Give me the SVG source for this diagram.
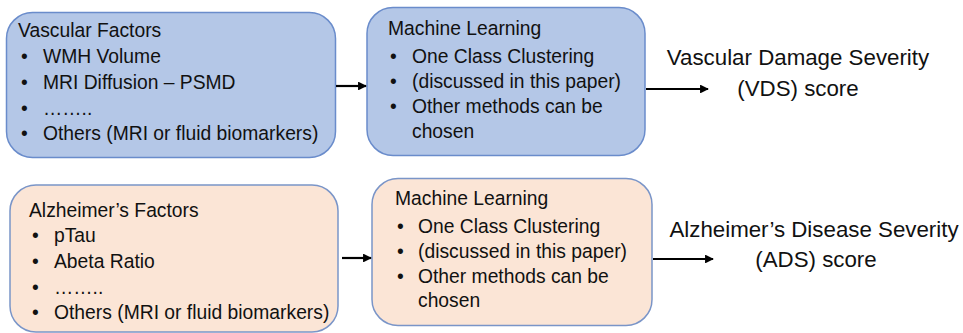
<svg xmlns="http://www.w3.org/2000/svg" width="963" height="333" viewBox="0 0 963 333">
<style>
text{font-family:"Liberation Sans",Arial,sans-serif;font-size:19.3px;fill:#111}
.blue{fill:#b4c7e7;stroke:#6a8ccb;stroke-width:1.5}
.peach{fill:#fbe5d6;stroke:#7a95c8;stroke-width:1.5}
.out{font-size:22.3px;text-anchor:middle}
.conn{stroke:#000;stroke-width:2.2;fill:none;marker-end:url(#ah)}
</style>
<defs>
<marker id="ah" viewBox="0 0 10 10" refX="9" refY="5" markerWidth="4" markerHeight="4" orient="auto" markerUnits="strokeWidth">
<path d="M0,0 L10,5 L0,10 z" fill="#000"/>
</marker>
</defs>
<rect width="963" height="333" fill="#fff"/>
<g id="vascular-factors">
<rect class="blue" x="6.5" y="12.5" width="329" height="145" rx="26"/>
<text x="18" y="37">Vascular Factors</text>
<text x="21" y="63">•</text><text x="43" y="63">WMH Volume</text>
<text x="21" y="89">•</text><text x="43" y="89">MRI Diffusion – PSMD</text>
<text x="21" y="115">•</text><text x="43" y="115">……..</text>
<text x="21" y="140">•</text><text x="43" y="140">Others (MRI or fluid biomarkers)</text>
</g>
<g id="ml-vascular">
<rect class="blue" x="367" y="7.5" width="278" height="148" rx="26"/>
<text x="388" y="35">Machine Learning</text>
<text x="390" y="63">•</text><text x="412" y="63">One Class Clustering</text>
<text x="390" y="88">•</text><text x="412" y="88">(discussed in this paper)</text>
<text x="390" y="113">•</text><text x="412" y="113">Other methods can be</text>
<text x="412" y="138">chosen</text>
</g>
<g id="vds-score">
<text class="out" x="798" y="65">Vascular Damage Severity</text>
<text class="out" x="798" y="96">(VDS) score</text>
</g>
<g id="alzheimers-factors">
<rect class="peach" x="10" y="185" width="328" height="147" rx="26"/>
<text x="29" y="217">Alzheimer’s Factors</text>
<text x="32" y="242">•</text><text x="54" y="242">pTau</text>
<text x="32" y="268">•</text><text x="54" y="268">Abeta Ratio</text>
<text x="32" y="294">•</text><text x="54" y="294">……..</text>
<text x="32" y="319">•</text><text x="54" y="319">Others (MRI or fluid biomarkers)</text>
</g>
<g id="ml-alzheimers">
<rect class="peach" x="372" y="178.5" width="280" height="147" rx="26"/>
<text x="395" y="205">Machine Learning</text>
<text x="397" y="233">•</text><text x="418" y="233">One Class Clustering</text>
<text x="397" y="258">•</text><text x="418" y="258">(discussed in this paper)</text>
<text x="397" y="283">•</text><text x="418" y="283">Other methods can be</text>
<text x="418" y="307">chosen</text>
</g>
<g id="ads-score">
<text class="out" x="814" y="237">Alzheimer’s Disease Severity</text>
<text class="out" x="816" y="267">(ADS) score</text>
</g>
<g id="connectors">
<line class="conn" x1="336" y1="86" x2="366" y2="86"/>
<line class="conn" x1="646" y1="89" x2="708" y2="89"/>
<line class="conn" x1="342" y1="258" x2="371" y2="258"/>
<line class="conn" x1="653" y1="259" x2="713" y2="259"/>
</g>
</svg>
